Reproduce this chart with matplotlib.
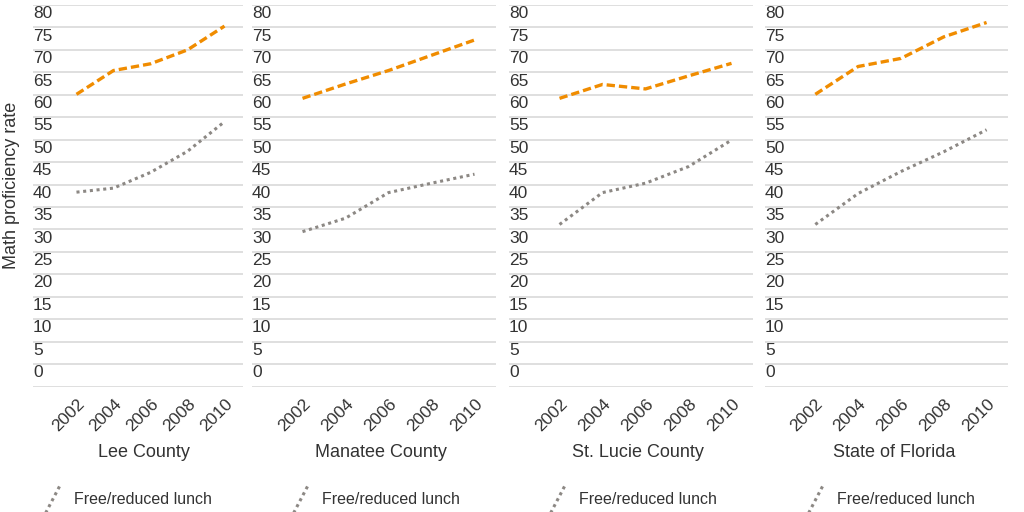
import matplotlib
matplotlib.use("Agg")
import matplotlib.pyplot as plt
from matplotlib.lines import Line2D
from matplotlib.legend_handler import HandlerLine2D
from matplotlib.transforms import ScaledTranslation

plt.rcParams["font.family"] = ["Liberation Sans", "DejaVu Sans"]

# Data
years = [2002, 2004, 2006, 2008, 2010]
regions = ["Lee County", "Manatee County", "St. Lucie County", "State of Florida"]
not_free_lunch = [
    [65.1, 70.4, 71.9, 75.0, 80.3],
    [64.2, 67.4, 70.4, 73.8, 77.2],
    [64.2, 67.3, 66.3, 69.2, 72.0],
    [65.1, 71.3, 73.1, 77.9, 81.1],
]
free_lunch = [
    [43.3, 44.2, 47.7, 52.4, 59.0],
    [34.5, 37.5, 43.2, 45.3, 47.3],
    [36.1, 43.2, 45.3, 49.0, 54.9],
    [36.1, 43.0, 47.9, 52.3, 57.2],
]
y_ticks = list(range(0, 90, 5))

ORANGE = "#f08c00"
GRAY = "#8c8884"
TEXT = "#333333"
GRID = "#d9d9d9"

W, H = 1024, 512
# panel boxes in pixels: (left, right)
panel_px = [(33, 243), (252, 496), (509, 753), (765, 1008)]
legend_px = [45, 293, 550, 808]
top_px, bottom_px = 5, 386.5


class DiagonalHandler(HandlerLine2D):
    """Draws the legend sample as a steep diagonal stroke."""

    def create_artists(self, legend, orig_handle, xdescent, ydescent,
                       width, height, fontsize, trans):
        line = Line2D([-xdescent, -xdescent + width],
                      [-ydescent - 7, -ydescent + height + 7])
        self.update_prop(line, orig_handle, legend)
        line.set_transform(trans)
        return [line]


fig = plt.figure(figsize=(W / 100, H / 100), dpi=100)

for i, region in enumerate(regions):
    left, right = panel_px[i]
    ax = fig.add_axes([left / W, (H - bottom_px) / H,
                       (right - left) / W, (bottom_px - top_px) / H])
    ax.plot(years, not_free_lunch[i], color=ORANGE, linewidth=2.4,
            linestyle=(0, (2.5, 1.2)), label="Not free/reduced lunch")
    free_line, = ax.plot(years, free_lunch[i], color=GRAY, linewidth=2.2,
                         linestyle=(0, (1, 1.2)), label="Free/reduced lunch")

    ax.set_xlim(1999.65, 2011.0)
    ax.set_ylim(0, 85)
    ax.set_yticks(y_ticks)
    ax.set_xticks(years)
    ax.grid(axis="y", color=GRID, linewidth=1.2)
    ax.set_axisbelow(True)
    for s in ax.spines.values():
        s.set_visible(False)

    ax.tick_params(axis="y", length=0, pad=0, labelsize=12.5, labelcolor=TEXT)
    ax.tick_params(axis="x", length=0, pad=7, labelsize=12.5, labelcolor=TEXT)
    ax.yaxis.set_major_formatter(matplotlib.ticker.FuncFormatter(lambda v, p: f"{int(v)}"))
    offset = ScaledTranslation(0, 4.5 / 72, fig.dpi_scale_trans)
    for lab in ax.get_yticklabels():
        lab.set_horizontalalignment("left")
        lab.set_verticalalignment("bottom")
        lab.set_transform(lab.get_transform() + offset)
    plt.setp(ax.get_xticklabels(), rotation=45, ha="right", va="top",
             rotation_mode="anchor")

    ax.set_xlabel(region, fontsize=13, color=TEXT)
    ax.xaxis.set_label_coords(0.53, -0.152)

    leg = ax.legend(handles=[free_line], loc="center left",
                    bbox_to_anchor=(legend_px[i] / W, (H - 500) / H),
                    bbox_transform=fig.transFigure, frameon=False,
                    borderpad=0, borderaxespad=0, handlelength=1.0,
                    handletextpad=0.8, fontsize=11.5,
                    handler_map={Line2D: DiagonalHandler()})
    for t in leg.get_texts():
        t.set_color(TEXT)

fig.text(12 / W, (H - 185) / H, "Math proficiency rate", rotation=90,
         ha="center", va="center", fontsize=13, color=TEXT)

fig.savefig("out.png", dpi=100)
